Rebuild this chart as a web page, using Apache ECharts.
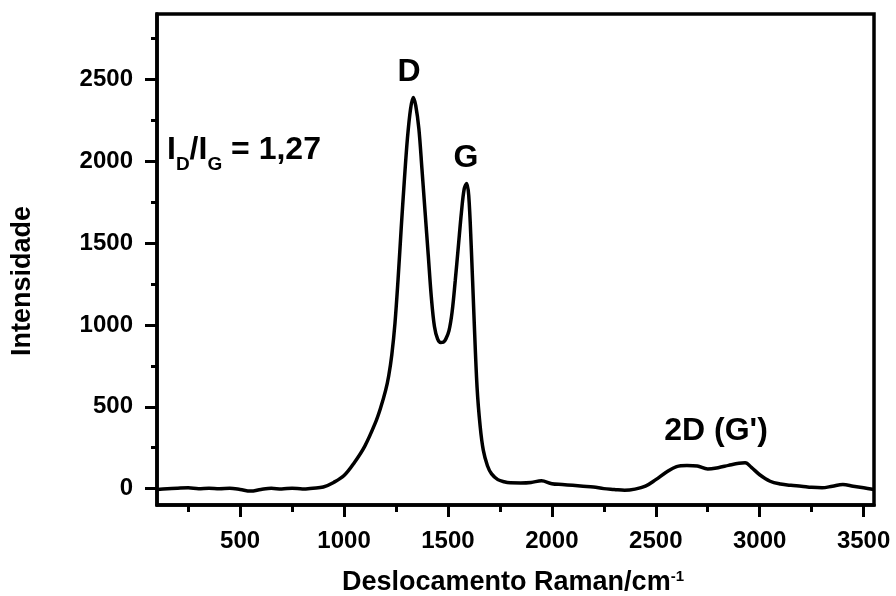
<!DOCTYPE html>
<html><head><meta charset="utf-8">
<script src="https://cdn.jsdelivr.net/npm/echarts@6/dist/echarts.min.js"></script>
<style>html,body{margin:0;padding:0;background:#fff}#c{width:896px;height:596px}</style>
</head><body><div id="c"></div>
<script>
// Raman shift (cm^-1)
const ramanShift = [100,150,200,250,300,350,400,450,500,550,600,650,700,750,800,850,900,950,1000,1050,1100,1150,1175,1200,1215,1230,1245,1260,1275,1290,1305,1320,1333,1345,1360,1375,1390,1405,1420,1435,1450,1465,1478,1490,1505,1520,1535,1550,1565,1578,1590,1600,1612,1625,1640,1655,1670,1690,1710,1740,1770,1800,1850,1900,1950,2000,2050,2100,2150,2200,2250,2300,2350,2400,2450,2500,2550,2600,2650,2700,2750,2800,2850,2900,2930,2960,3000,3050,3100,3150,3200,3250,3300,3350,3400,3450,3500,3550];
// Intensity
const intensity = [-5,0,3,5,0,3,0,2,-5,-15,-5,2,-2,3,-2,3,10,38,80,160,260,400,490,600,690,820,1010,1280,1590,1880,2140,2320,2390,2340,2200,1950,1690,1430,1170,990,915,893,895,915,965,1080,1270,1480,1690,1830,1865,1790,1480,1060,620,380,235,140,90,55,42,36,35,38,48,30,25,20,15,10,0,-5,-10,-3,15,55,100,135,142,138,120,128,142,155,158,130,85,45,28,20,15,8,5,15,25,15,5,-5];

const xMajorTicks = [500,1000,1500,2000,2500,3000,3500];
const xMinorTicks = [250,750,1250,1750,2250,2750,3250];
const yMajorTicks = [0,500,1000,1500,2000,2500];
const yMinorTicks = [250,750,1250,1750,2250,2750];

const xTitle = 'Deslocamento Raman/cm';
const xTitleSup = '-1';
const yTitle = 'Intensidade';
const peakD = 'D', peakG = 'G', peak2D = "2D (G')";
// ratio annotation pieces: [text, isSubscript]
const ratioParts = [['I', false], ['D', true], ['/I', false], ['G', true], [' = 1,27', false]];

const FONT = "'Liberation Sans', Arial, Helvetica, sans-serif";
const chart = echarts.init(document.getElementById('c'), null, {renderer: 'canvas'});

const labelStyle = {fontSize: 24, fontWeight: 'bold', color: '#000', fontFamily: FONT, formatter: v => String(v)};
const lineStyle = {color: '#000', width: 3.5};
const tickStyle = {color: '#000', width: 3};

// lay out the ratio annotation with measured widths
const mctx = document.createElement('canvas').getContext('2d');
const MAIN = 32, SUB = 19;
let cx = 167;
const ratioEls = ratioParts.map(([t, sub]) => {
  const fs = sub ? SUB : MAIN;
  const font = 'bold ' + fs + 'px ' + FONT;
  mctx.font = font;
  const el = {type: 'text', x: cx, y: sub ? 165 : 150.5,
    style: {text: t, align: 'left', verticalAlign: 'middle', fill: '#000', font: font}};
  cx += mctx.measureText(t).width;
  return el;
});

chart.setOption({
  animation: false,
  backgroundColor: '#fff',
  grid: {left: 157, right: 22, top: 14, bottom: 91, show: true, borderColor: '#000', borderWidth: 3.5, backgroundColor: 'transparent'},
  xAxis: [
    {type: 'value', min: 100, max: 3550, position: 'bottom',
     axisLine: {show: true, onZero: false, lineStyle: lineStyle},
     axisTick: {show: true, customValues: xMajorTicks, length: 12, lineStyle: tickStyle},
     axisLabel: Object.assign({customValues: xMajorTicks, margin: 24}, labelStyle),
     splitLine: {show: false}},
    {type: 'value', min: 100, max: 3550, position: 'bottom',
     axisLine: {show: false, onZero: false},
     axisTick: {show: true, customValues: xMinorTicks, length: 7, lineStyle: tickStyle},
     axisLabel: {show: false}, splitLine: {show: false}}
  ],
  yAxis: [
    {type: 'value', min: -100, max: 2900, position: 'left',
     axisLine: {show: true, onZero: false, lineStyle: lineStyle},
     axisTick: {show: true, customValues: yMajorTicks, length: 12, lineStyle: tickStyle},
     axisLabel: Object.assign({customValues: yMajorTicks, margin: 24}, labelStyle),
     splitLine: {show: false}},
    {type: 'value', min: -100, max: 2900, position: 'left',
     axisLine: {show: false, onZero: false},
     axisTick: {show: true, customValues: yMinorTicks, length: 6, lineStyle: tickStyle},
     axisLabel: {show: false}, splitLine: {show: false}}
  ],
  series: [{
    type: 'line', xAxisIndex: 0, yAxisIndex: 0,
    data: ramanShift.map((x, i) => [x, intensity[i]]),
    showSymbol: false, smooth: 0.35,
    lineStyle: {color: '#000', width: 3.5}, silent: true
  }],
  graphic: [
    {type: 'text', x: 513, y: 583, style: {
      text: '{m|' + xTitle + '}{s|' + xTitleSup + '}',
      align: 'center', verticalAlign: 'middle', fill: '#000',
      rich: {m: {fontSize: 27, fontWeight: 'bold', fontFamily: FONT, lineHeight: 27},
             s: {fontSize: 15, fontWeight: 'bold', fontFamily: FONT, lineHeight: 15, verticalAlign: 'top'}}}},
    {type: 'text', x: 22.5, y: 281, rotation: Math.PI / 2, style: {
      text: yTitle, align: 'center', verticalAlign: 'middle', fill: '#000',
      font: 'bold 27px ' + FONT}},
    {type: 'text', x: 409, y: 72, style: {text: peakD, align: 'center', verticalAlign: 'middle', fill: '#000', font: 'bold 32px ' + FONT}},
    {type: 'text', x: 466, y: 158, style: {text: peakG, align: 'center', verticalAlign: 'middle', fill: '#000', font: 'bold 32px ' + FONT}},
    {type: 'text', x: 716, y: 431, style: {text: peak2D, align: 'center', verticalAlign: 'middle', fill: '#000', font: 'bold 32px ' + FONT}}
  ].concat(ratioEls)
});
</script></body></html>
